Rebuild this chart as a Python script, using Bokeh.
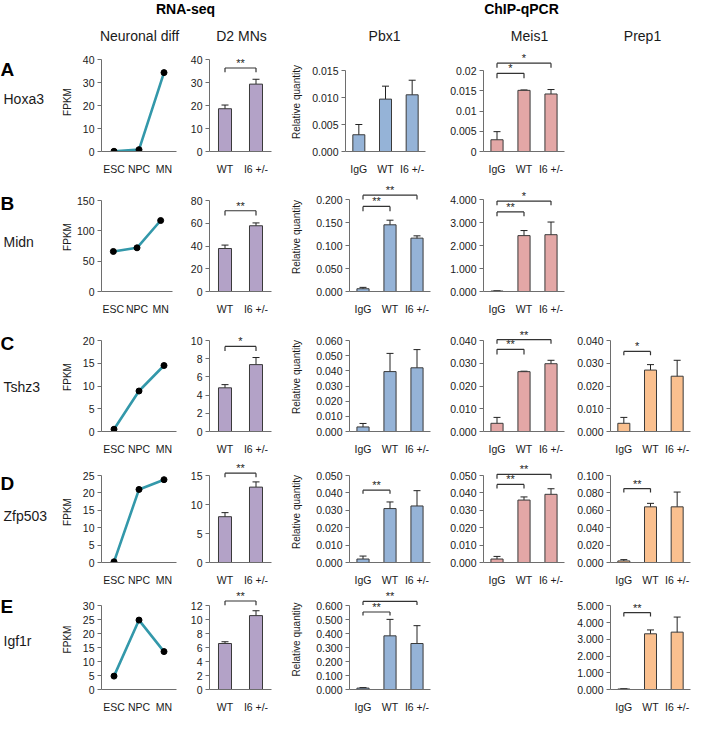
from bokeh.plotting import figure
from bokeh.layouts import column, row
from bokeh.models import Range1d, FixedTicker, Whisker, TeeHead, ColumnDataSource, Spacer
from bokeh.embed import file_html
from bokeh.resources import INLINE
from bokeh.core.properties import value

# ---------------- data ----------------
genes = ["Hoxa3", "Midn", "Tshz3", "Zfp503", "Igf1r"]
letters = ["A", "B", "C", "D", "E"]
stages = ["ESC", "NPC", "MN"]
genotypes = ["WT", "I6 +/-"]
chip_groups = ["IgG", "WT", "I6 +/-"]
section_titles = ["RNA-seq", "ChIP-qPCR"]
column_titles = ["Neuronal diff", "D2 MNs", "Pbx1", "Meis1", "Prep1"]

# neuronal differentiation (FPKM)
hoxa3_diff = [0.1, 0.8, 34.3]
midn_diff = [66, 72, 117]
tshz3_diff = [0.5, 8.9, 14.5]
zfp503_diff = [0.2, 21.0, 23.8]
igf1r_diff = [4.8, 24.9, 13.6]
hoxa3_diff_ticks = [0, 10, 20, 30, 40]
midn_diff_ticks = [0, 50, 100, 150]
tshz3_diff_ticks = [0, 5, 10, 15, 20]
zfp503_diff_ticks = [0, 5, 10, 15, 20, 25]
igf1r_diff_ticks = [0, 5, 10, 15, 20, 25, 30]

# D2 MNs (FPKM)
hoxa3_d2 = [18.6, 29.3]; hoxa3_d2_err = [1.6, 2.1]
midn_d2 = [37.8, 57.8]; midn_d2_err = [3.0, 2.5]
tshz3_d2 = [4.8, 7.35]; tshz3_d2_err = [0.35, 0.78]
zfp503_d2 = [7.9, 13.0]; zfp503_d2_err = [0.7, 0.9]
igf1r_d2 = [6.6, 10.6]; igf1r_d2_err = [0.25, 0.7]
hoxa3_d2_ticks = [0, 10, 20, 30, 40]
midn_d2_ticks = [0, 20, 40, 60, 80]
tshz3_d2_ticks = [0, 2, 4, 6, 8, 10]
zfp503_d2_ticks = [0, 5, 10, 15]
igf1r_d2_ticks = [0, 2, 4, 6, 8, 10, 12]
# significance: (group i, group j, label, bracket height, leg end)
hoxa3_d2_sig = [(0, 1, "**", 36.3, 34.5)]
midn_d2_sig = [(0, 1, "**", 71.0, 66.8)]
tshz3_d2_sig = [(0, 1, "*", 9.35, 8.85)]
zfp503_d2_sig = [(0, 1, "**", 15.4, 14.7)]
igf1r_d2_sig = [(0, 1, "**", 12.7, 12.1)]

# Pbx1 ChIP-qPCR (relative quantity)
hoxa3_pbx1 = [0.0031, 0.0097, 0.0105]; hoxa3_pbx1_err = [0.0019, 0.0024, 0.0027]
midn_pbx1 = [0.006, 0.145, 0.116]; midn_pbx1_err = [0.003, 0.010, 0.005]
tshz3_pbx1 = [0.003, 0.0395, 0.042]; tshz3_pbx1_err = [0.0023, 0.012, 0.012]
zfp503_pbx1 = [0.002, 0.031, 0.0325]; zfp503_pbx1_err = [0.0017, 0.0038, 0.0088]
igf1r_pbx1 = [0.01, 0.385, 0.33]; igf1r_pbx1_err = [0.004, 0.118, 0.128]
hoxa3_pbx1_ticks = [0, 0.005, 0.01, 0.015]
hoxa3_pbx1_labels = ["0.000", "0.005", "0.010", "0.015"]
midn_pbx1_ticks = [0, 0.05, 0.1, 0.15, 0.2]
midn_pbx1_labels = ["0.000", "0.050", "0.100", "0.150", "0.200"]
tshz3_pbx1_ticks = [0, 0.01, 0.02, 0.03, 0.04, 0.05, 0.06]
tshz3_pbx1_labels = ["0.000", "0.010", "0.020", "0.030", "0.040", "0.050", "0.060"]
zfp503_pbx1_ticks = [0, 0.01, 0.02, 0.03, 0.04, 0.05]
zfp503_pbx1_labels = ["0.000", "0.010", "0.020", "0.030", "0.040", "0.050"]
igf1r_pbx1_ticks = [0, 0.1, 0.2, 0.3, 0.4, 0.5, 0.6]
igf1r_pbx1_labels = ["0.000", "0.100", "0.200", "0.300", "0.400", "0.500", "0.600"]
hoxa3_pbx1_sig = []
midn_pbx1_sig = [(0, 1, "**", 0.185, 0.1745), (0, 2, "**", 0.2095, 0.2)]
tshz3_pbx1_sig = []
zfp503_pbx1_sig = [(0, 1, "**", 0.0416, 0.0395)]
igf1r_pbx1_sig = [(0, 1, "**", 0.556, 0.53), (0, 2, "**", 0.632, 0.606)]

# Meis1 ChIP-qPCR
hoxa3_meis1 = [0.0029, 0.0151, 0.0142]; hoxa3_meis1_err = [0.002, 0.0001, 0.0011]
midn_meis1 = [0.02, 2.43, 2.47]; midn_meis1_err = [0.005, 0.22, 0.55]
tshz3_meis1 = [0.0036, 0.0263, 0.0298]; tshz3_meis1_err = [0.0026, 0.0002, 0.0015]
zfp503_meis1 = [0.002, 0.0359, 0.0392]; zfp503_meis1_err = [0.0015, 0.0018, 0.0032]
hoxa3_meis1_ticks = [0, 0.005, 0.01, 0.015, 0.02]
hoxa3_meis1_labels = ["0", "0.005", "0.01", "0.015", "0.02"]
midn_meis1_ticks = [0, 1, 2, 3, 4]
midn_meis1_labels = ["0.000", "1.000", "2.000", "3.000", "4.000"]
tshz3_meis1_ticks = [0, 0.01, 0.02, 0.03, 0.04]
tshz3_meis1_labels = ["0.000", "0.010", "0.020", "0.030", "0.040"]
zfp503_meis1_ticks = [0, 0.01, 0.02, 0.03, 0.04, 0.05]
zfp503_meis1_labels = ["0.000", "0.010", "0.020", "0.030", "0.040", "0.050"]
hoxa3_meis1_sig = [(0, 1, "*", 0.0193, 0.0181), (0, 2, "*", 0.0218, 0.0207)]
midn_meis1_sig = [(0, 1, "**", 3.46, 3.27), (0, 2, "*", 3.93, 3.75)]
tshz3_meis1_sig = [(0, 1, "**", 0.0361, 0.0338), (0, 2, "**", 0.0404, 0.0386)]
zfp503_meis1_sig = [(0, 1, "**", 0.0449, 0.0425), (0, 2, "**", 0.0507, 0.0481)]

# Prep1 ChIP-qPCR
tshz3_prep1 = [0.0036, 0.0270, 0.0243]; tshz3_prep1_err = [0.0026, 0.0024, 0.007]
zfp503_prep1 = [0.0018, 0.064, 0.064]; zfp503_prep1_err = [0.0015, 0.004, 0.017]
igf1r_prep1 = [0.03, 3.33, 3.43]; igf1r_prep1_err = [0.01, 0.23, 0.9]
tshz3_prep1_ticks = [0, 0.01, 0.02, 0.03, 0.04]
tshz3_prep1_labels = ["0.000", "0.010", "0.020", "0.030", "0.040"]
zfp503_prep1_ticks = [0, 0.02, 0.04, 0.06, 0.08, 0.1]
zfp503_prep1_labels = ["0.000", "0.020", "0.040", "0.060", "0.080", "0.100"]
igf1r_prep1_ticks = [0, 1, 2, 3, 4, 5]
igf1r_prep1_labels = ["0.000", "1.000", "2.000", "3.000", "4.000", "5.000"]
tshz3_prep1_sig = [(0, 1, "*", 0.0352, 0.0335)]
zfp503_prep1_sig = [(0, 1, "**", 0.085, 0.0806)]
igf1r_prep1_sig = [(0, 1, "**", 4.6, 4.36)]

# ---------------- style ----------------
FONT = "Liberation Sans"
TXT = "#1a1a1a"
AXC = "#6e6e6e"
EDGE = "#3a3a3a"
TEAL = "#3398AA"
PURPLE = "#B3A2C7"
BLUE = "#95B3D7"
PINK = "#E3A7A6"
ORANGE = "#FAC08F"
TICK_FS = "10.5px"

COL_W = [58, 126, 94, 154, 134, 126]
ROW_H = [130, 140, 139, 129, 127]
FT_OFF = [2, 2, 2, 2, 1]
FRAME_H = [99, 109, 109, 108, 110]
TOP_OFF = [[7, 7, 18, 18, 18], [18, 18, 17, 17, 17], [18, 18, 18, 18, 18],
           [15, 15, 15, 15, 15], [18, 18, 18, 18, 18]]


def new_fig(w, h, bl, fw, bt, fh, xr, yr):
    p = figure(width=w, height=h, x_range=xr, y_range=yr, output_backend="svg",
               toolbar_location=None, title=None,
               min_border_left=bl, min_border_right=w - bl - fw,
               min_border_top=bt, min_border_bottom=h - bt - fh)
    p.outline_line_color = None
    p.grid.visible = False
    p.background_fill_color = "white"
    p.border_fill_color = "white"
    return p


def style_axes(p, xlabels, yticks, ylabels, axis_label=None, label_px=None):
    n = len(xlabels)
    xt = [i + 0.5 for i in range(n)]
    xa = p.xaxis[0]
    xa.ticker = FixedTicker(ticks=xt)
    xa.major_label_overrides = {t: l for t, l in zip(xt, xlabels)}
    xa.major_tick_line_color = None
    xa.minor_tick_line_color = None
    xa.axis_line_color = AXC
    xa.major_label_text_font = FONT
    xa.major_label_text_font_size = TICK_FS
    xa.major_label_text_color = TXT
    xa.major_label_standoff = 5
    ya = p.yaxis[0]
    ya.ticker = FixedTicker(ticks=yticks)
    ya.major_label_overrides = {t: l for t, l in zip(yticks, ylabels)}
    ya.bounds = (0, yticks[-1])
    ya.axis_line_color = AXC
    ya.major_tick_line_color = AXC
    ya.major_tick_out = 4
    ya.major_tick_in = 0
    ya.minor_tick_line_color = None
    ya.major_label_text_font = FONT
    ya.major_label_text_font_size = TICK_FS
    ya.major_label_text_color = TXT
    ya.major_label_standoff = 3
    if axis_label:
        ya.axis_label = axis_label
        ya.axis_label_text_font = FONT
        ya.axis_label_text_font_size = "10px"
        ya.axis_label_text_font_style = "normal"
        ya.axis_label_text_color = TXT
        maxw = max(len(l) for l in ylabels) * 5.8
        ya.axis_label_standoff = max(0, int(label_px - 7 - maxw))


def diff_panel(r, vals, ticks):
    w, bl = COL_W[1], 40
    fw = 74 if r == 1 else 78
    h, bt, fh = ROW_H[r], FT_OFF[r], FRAME_H[r]
    off = TOP_OFF[r][0]
    yr = Range1d(0, ticks[-1] * fh / (fh - off))
    p = new_fig(w, h, bl, fw, bt, fh, Range1d(0, len(stages)), yr)
    xs = [i + 0.5 for i in range(len(stages))]
    p.line(xs, vals, line_width=2.6, line_color=TEAL)
    p.scatter(xs, vals, size=6, fill_color="black", line_color="black")
    style_axes(p, stages, ticks, [str(t) for t in ticks], "FPKM", 26)
    return p


def bar_panel(r, c, cats, vals, errs, ticks, labels, color, sig, bl, fw, frac,
              axis_label=None, label_px=None):
    w = COL_W[c]
    h, bt, fh = ROW_H[r], FT_OFF[r], FRAME_H[r]
    off = TOP_OFF[r][c - 1]
    yr = Range1d(0, ticks[-1] * fh / (fh - off))
    n = len(cats)
    p = new_fig(w, h, bl, fw, bt, fh, Range1d(0, n), yr)
    xs = [i + 0.5 for i in range(n)]
    src = ColumnDataSource(dict(x=xs, top=vals,
                                upper=[v + e for v, e in zip(vals, errs)],
                                lower=[v - e for v, e in zip(vals, errs)]))
    p.vbar(x="x", top="top", bottom=0, width=frac, source=src,
           fill_color=color, line_color=EDGE, line_width=1)
    p.add_layout(Whisker(source=src, base="x", upper="upper", lower="lower",
                         line_color="#222222", line_width=1,
                         upper_head=TeeHead(size=7, line_color="#222222", line_width=1),
                         lower_head=TeeHead(size=7, line_color="#222222", line_width=1)))
    for (i, j, s, yb, yl) in sig:
        xi, xj = xs[i], xs[j]
        p.segment(x0=[xi, xi, xj], y0=[yb, yb, yb], x1=[xj, xi, xj], y1=[yb, yl, yl],
                  line_color="#333333", line_width=1.2)
        p.text(x=[(xi + xj) / 2], y=[yb], text=[s], text_align="center",
               text_baseline="bottom", text_font=value(FONT), text_font_size="11px",
               text_color="#222222", y_offset=1)
    if labels is None:
        labels = [str(t) for t in ticks]
    style_axes(p, cats, ticks, labels, axis_label, label_px)
    return p


def label_fig(r, letter_y, gene_y):
    w, h = COL_W[0], ROW_H[r]
    p = new_fig(w, h, 0, w, 0, h, Range1d(0, w), Range1d(h, 0))
    p.axis.visible = False
    p.text(x=[0], y=[letter_y], text=[letters[r]], text_font=value(FONT),
           text_font_style="bold", text_font_size="19px", text_baseline="middle",
           text_color="black")
    p.text(x=[3], y=[gene_y], text=[genes[r]], text_font=value(FONT),
           text_font_size="14px", text_baseline="middle", text_color=TXT)
    return p


def spacer(r, c):
    return Spacer(width=COL_W[c], height=ROW_H[r])


# header
hdr = figure(width=sum(COL_W), height=50, x_range=Range1d(0, sum(COL_W)),
             y_range=Range1d(50, 0), output_backend="svg", toolbar_location=None,
             title=None, min_border=0)
hdr.outline_line_color = None
hdr.grid.visible = False
hdr.axis.visible = False
hdr.text(x=[185, 521], y=[8, 8], text=section_titles, text_font=value(FONT),
         text_font_style="bold", text_font_size="14px", text_align="center",
         text_baseline="middle", text_color="black")
hdr.text(x=[139, 241, 384, 529, 642], y=[35] * 5, text=column_titles,
         text_font=value(FONT), text_font_size="14px", text_align="center",
         text_baseline="middle", text_color=TXT)

# column frame geometry
D2_BL, D2_FW = 25, 62
PBX_A = (67, 80)
PBX = (71, 81)
MEIS = (51, 81)
PREP = (44, 80)

rows = []
# Row A
rows.append(row(
    label_fig(0, 22, 61),
    diff_panel(0, hoxa3_diff, hoxa3_diff_ticks),
    bar_panel(0, 2, genotypes, hoxa3_d2, hoxa3_d2_err, hoxa3_d2_ticks, None, PURPLE,
              hoxa3_d2_sig, D2_BL, D2_FW, 0.42),
    bar_panel(0, 3, chip_groups, hoxa3_pbx1, hoxa3_pbx1_err, hoxa3_pbx1_ticks,
              hoxa3_pbx1_labels, BLUE, hoxa3_pbx1_sig, *PBX_A, 0.45,
              "Relative quantity", 43),
    bar_panel(0, 4, chip_groups, hoxa3_meis1, hoxa3_meis1_err, hoxa3_meis1_ticks,
              hoxa3_meis1_labels, PINK, hoxa3_meis1_sig, *MEIS, 0.45),
    spacer(0, 5)))
# Row B
rows.append(row(
    label_fig(1, 27, 77),
    diff_panel(1, midn_diff, midn_diff_ticks),
    bar_panel(1, 2, genotypes, midn_d2, midn_d2_err, midn_d2_ticks, None, PURPLE,
              midn_d2_sig, D2_BL, D2_FW, 0.42),
    bar_panel(1, 3, chip_groups, midn_pbx1, midn_pbx1_err, midn_pbx1_ticks,
              midn_pbx1_labels, BLUE, midn_pbx1_sig, *PBX, 0.45,
              "Relative quantity", 47),
    bar_panel(1, 4, chip_groups, midn_meis1, midn_meis1_err, midn_meis1_ticks,
              midn_meis1_labels, PINK, midn_meis1_sig, *MEIS, 0.45),
    spacer(1, 5)))
# Row C
rows.append(row(
    label_fig(2, 27, 82),
    diff_panel(2, tshz3_diff, tshz3_diff_ticks),
    bar_panel(2, 2, genotypes, tshz3_d2, tshz3_d2_err, tshz3_d2_ticks, None, PURPLE,
              tshz3_d2_sig, D2_BL, D2_FW, 0.42),
    bar_panel(2, 3, chip_groups, tshz3_pbx1, tshz3_pbx1_err, tshz3_pbx1_ticks,
              tshz3_pbx1_labels, BLUE, tshz3_pbx1_sig, *PBX, 0.45,
              "Relative quantity", 47),
    bar_panel(2, 4, chip_groups, tshz3_meis1, tshz3_meis1_err, tshz3_meis1_ticks,
              tshz3_meis1_labels, PINK, tshz3_meis1_sig, *MEIS, 0.45),
    bar_panel(2, 5, chip_groups, tshz3_prep1, tshz3_prep1_err, tshz3_prep1_ticks,
              tshz3_prep1_labels, ORANGE, tshz3_prep1_sig, *PREP, 0.45)))
# Row D
rows.append(row(
    label_fig(3, 28, 70),
    diff_panel(3, zfp503_diff, zfp503_diff_ticks),
    bar_panel(3, 2, genotypes, zfp503_d2, zfp503_d2_err, zfp503_d2_ticks, None, PURPLE,
              zfp503_d2_sig, D2_BL, D2_FW, 0.42),
    bar_panel(3, 3, chip_groups, zfp503_pbx1, zfp503_pbx1_err, zfp503_pbx1_ticks,
              zfp503_pbx1_labels, BLUE, zfp503_pbx1_sig, *PBX, 0.45,
              "Relative quantity", 47),
    bar_panel(3, 4, chip_groups, zfp503_meis1, zfp503_meis1_err, zfp503_meis1_ticks,
              zfp503_meis1_labels, PINK, zfp503_meis1_sig, *MEIS, 0.45),
    bar_panel(3, 5, chip_groups, zfp503_prep1, zfp503_prep1_err, zfp503_prep1_ticks,
              zfp503_prep1_labels, ORANGE, zfp503_prep1_sig, *PREP, 0.45)))
# Row E
rows.append(row(
    label_fig(4, 21, 66),
    diff_panel(4, igf1r_diff, igf1r_diff_ticks),
    bar_panel(4, 2, genotypes, igf1r_d2, igf1r_d2_err, igf1r_d2_ticks, None, PURPLE,
              igf1r_d2_sig, D2_BL, D2_FW, 0.42),
    bar_panel(4, 3, chip_groups, igf1r_pbx1, igf1r_pbx1_err, igf1r_pbx1_ticks,
              igf1r_pbx1_labels, BLUE, igf1r_pbx1_sig, *PBX, 0.45,
              "Relative quantity", 47),
    spacer(4, 4),
    bar_panel(4, 5, chip_groups, igf1r_prep1, igf1r_prep1_err, igf1r_prep1_ticks,
              igf1r_prep1_labels, ORANGE, igf1r_prep1_sig, *PREP, 0.45)))

layout = column(hdr, *rows)
open("out.html", "w").write(file_html(layout, INLINE, "ChIP-qPCR"))
